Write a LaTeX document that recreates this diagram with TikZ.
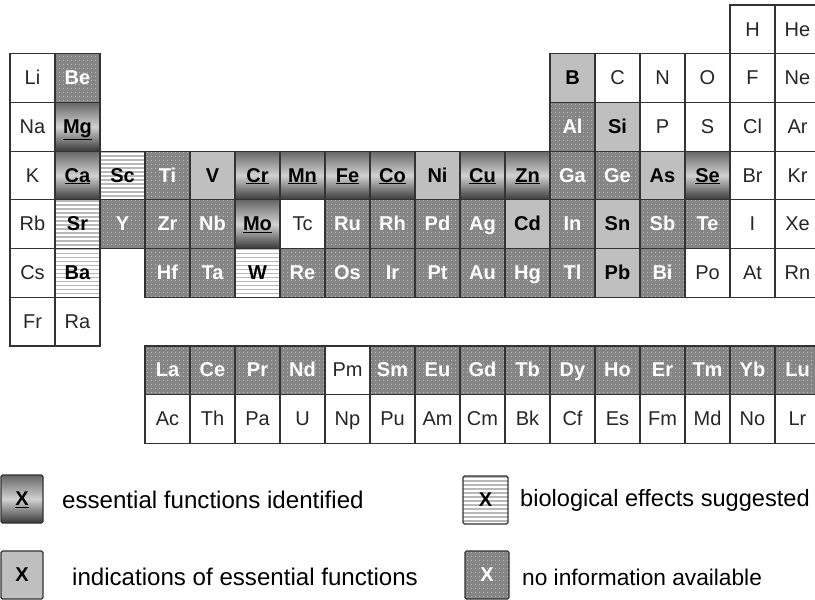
\documentclass[tikz,border=0pt]{standalone}
\usepackage{fontspec}
\setmainfont{Liberation Sans}
\usetikzlibrary{patterns.meta}
\tikzset{cell/.style = {draw=black!80, line width=1.2pt, minimum width=45pt, minimum height=48.7pt, inner sep=0, text height=14.3pt, text depth=1pt, font=\fontsize{20}{23}\selectfont\bfseries, text=black}}
\tikzset{plain/.style = {fill=white, font=\fontsize{20}{23}\selectfont, text=black!85}}
\tikzset{essential/.style = {top color=black!60, bottom color=black!78, middle color=black!18}}
\tikzset{indication/.style = {fill=black!25}}
\tikzset{effect/.style = {fill=white, path picture={
      \foreach \k in {0,...,13}
        \draw [black!28, line width=1.8pt] ([yshift=-\k*4pt-1pt]path picture bounding box.north west) -- ([yshift=-\k*4pt-1pt]path picture bounding box.north east);}}}
\tikzset{noinfo/.style = {preaction={fill=black!48}, pattern={Dots[distance=4pt, radius=0.7pt]}, pattern color=black!25, text=white}}
\tikzset{legend/.style = {anchor=west, inner sep=0, font=\fontsize{24.1}{28}\selectfont, text=black}}

\begin{document}
\begin{tikzpicture}
    \useasboundingbox (0pt, 0pt) rectangle (815pt, -600pt);

    \begin{scope}[x=45pt, y=-48.7pt, shift={(-12.5pt, 19.35pt)}]
    % plain
    \foreach \s/\c/\r in {H/17/1, He/18/1, Li/1/2, C/14/2, N/15/2, O/16/2, F/17/2, Ne/18/2,
        Na/1/3, P/15/3, S/16/3, Cl/17/3, Ar/18/3, K/1/4, Br/17/4, Kr/18/4,
        Rb/1/5, Tc/7/5, I/17/5, Xe/18/5, Cs/1/6, Po/16/6, At/17/6, Rn/18/6,
        Fr/1/7, Ra/2/7, Pm/8/8}
      \node [cell, plain] (\s) at (\c, \r) {\s};
    \foreach \s [count=\c from 4] in {Ac, Th, Pa, U, Np, Pu, Am, Cm, Bk, Cf, Es, Fm, Md, No, Lr}
      \node [cell, plain] (\s) at (\c, 9) {\s};

    % essential functions identified
    \foreach \s/\c/\r in {Mg/2/3, Ca/2/4, Cr/6/4, Mn/7/4, Fe/8/4, Co/9/4, Cu/11/4, Zn/12/4,
        Se/16/4, Mo/6/5}
      \node [cell, essential] (\s) at (\c, \r) {\underline{\s}};

    % indications
    \foreach \s/\c/\r in {B/13/2, Si/14/3, V/5/4, Ni/10/4, As/15/4, Cd/12/5, Sn/14/5, Pb/14/6}
      \node [cell, indication] (\s) at (\c, \r) {\s};

    % biological effects
    \foreach \s/\c/\r in {Sc/3/4, Sr/2/5, Ba/2/6, W/6/6}
      \node [cell, effect] (\s) at (\c, \r) {\s};

    % no information
    \foreach \s/\c/\r in {Be/2/2, Al/13/3, Ti/4/4, Ga/13/4, Ge/14/4,
        Y/3/5, Zr/4/5, Nb/5/5, Ru/8/5, Rh/9/5, Pd/10/5, Ag/11/5, In/13/5, Sb/15/5, Te/16/5,
        Hf/4/6, Ta/5/6, Re/7/6, Os/8/6, Ir/9/6, Pt/10/6, Au/11/6, Hg/12/6, Tl/13/6, Bi/15/6}
      \node [cell, noinfo] (\s) at (\c, \r) {\s};
    \foreach \s/\c in {La/4, Ce/5, Pr/6, Nd/7, Sm/9, Eu/10, Gd/11, Tb/12, Dy/13, Ho/14,
        Er/15, Tm/16, Yb/17, Lu/18}
      \node [cell, noinfo] (\s) at (\c, 8) {\s};
    \end{scope}

    % key
    \node [cell, essential, rounded corners=1.5pt, minimum width=42pt, minimum height=48pt] (key1) at (22pt, -499pt) {\underline{X}};
    \node [cell, indication, rounded corners=1.5pt, minimum width=42pt, minimum height=48pt] (key2) at (22pt, -575pt) {X};
    \node [cell, effect, rounded corners=1.5pt, minimum width=45pt, minimum height=48pt] (key3) at (485.5pt, -500pt) {X};
    \node [cell, noinfo, rounded corners=1.5pt, minimum width=44pt, minimum height=48pt] (key4) at (487pt, -575pt) {X};

    \node [legend] (text1) at (62pt, -500pt) {essential functions identified};
    \node [legend] (text2) at (72pt, -577pt) {indications of essential functions};
    \node [legend, font=\fontsize{23.6}{28}\selectfont] (text3) at (520pt, -500pt) {biological effects suggested};
    \node [legend, font=\fontsize{22.7}{27}\selectfont] (text4) at (522pt, -577pt) {no information available};
\end{tikzpicture}
\end{document}
